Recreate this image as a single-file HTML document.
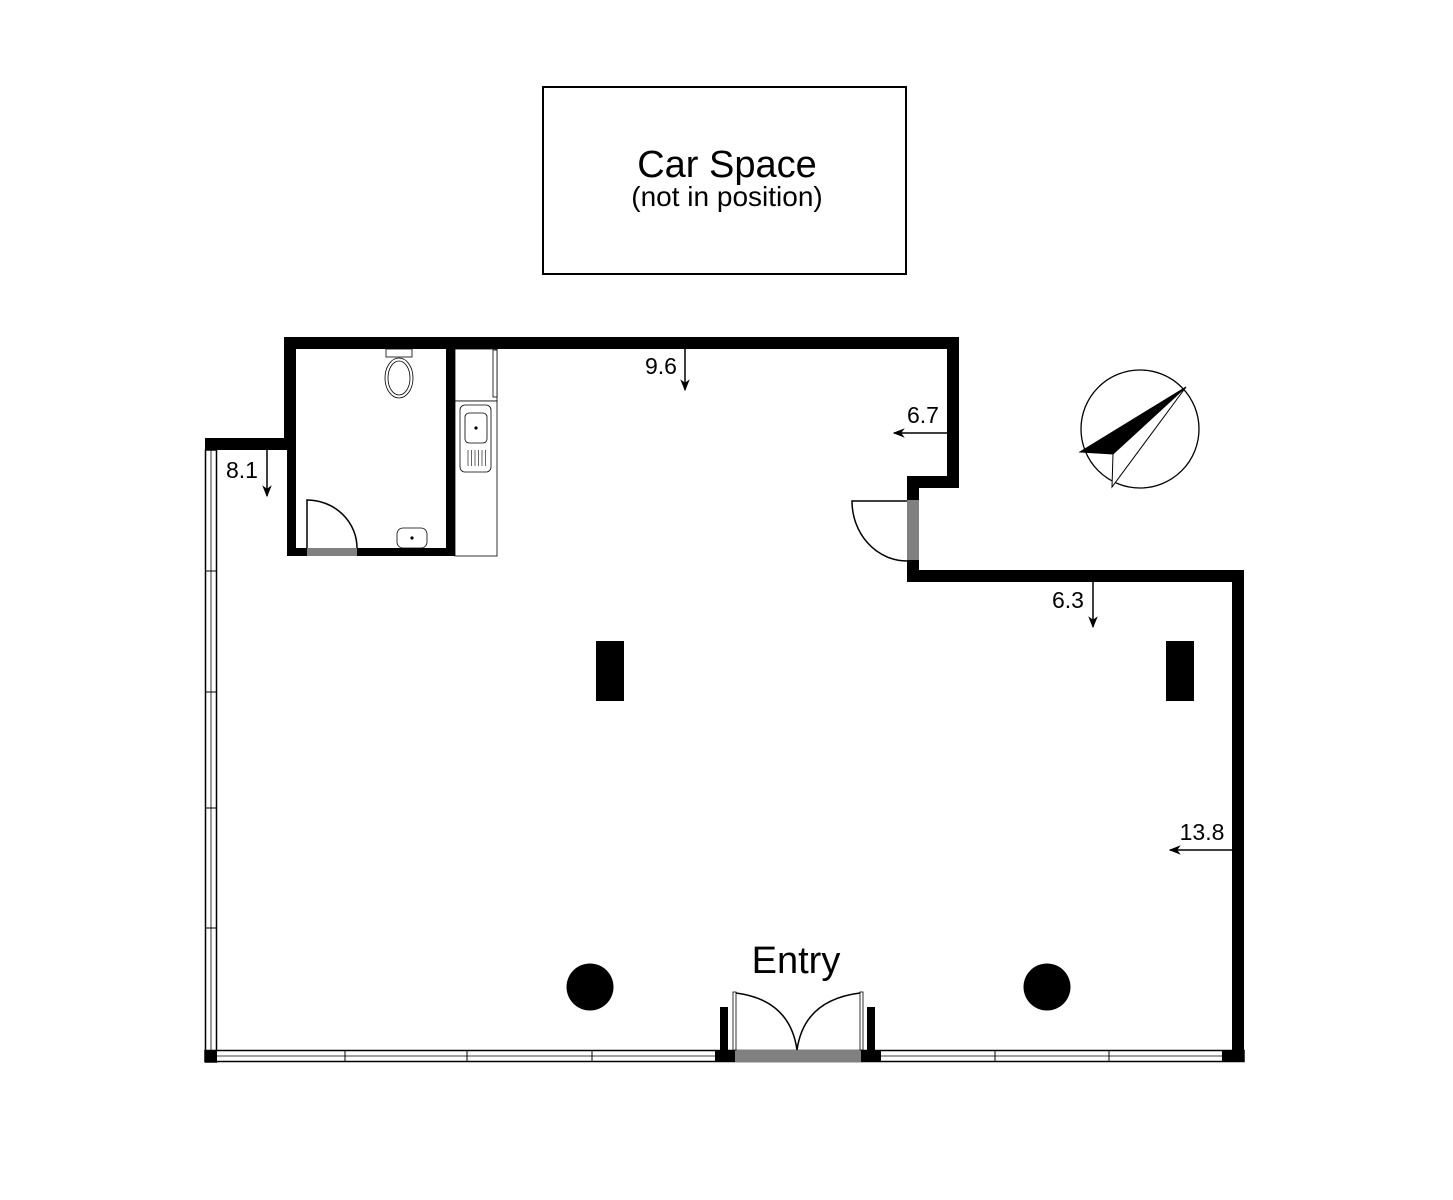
<!DOCTYPE html>
<html><head><meta charset="utf-8"><style>
html,body{margin:0;padding:0;background:#fff;}
svg{display:block;}
text{font-family:"Liberation Sans",sans-serif;fill:#000;}
</style></head><body>
<svg width="1453" height="1200" viewBox="0 0 1453 1200" xmlns="http://www.w3.org/2000/svg">
<defs><marker id="ah" viewBox="0 0 10 10" refX="9" refY="5" markerWidth="8" markerHeight="8" orient="auto"><path d="M0,1 L10,5 L0,9 L3,5z" fill="#000"/></marker></defs>
<rect x="543" y="87" width="363" height="187" fill="none" stroke="#000" stroke-width="2"/>
<text x="727" y="177" font-size="38" text-anchor="middle">Car Space</text>
<text x="727" y="206" font-size="28" text-anchor="middle">(not in position)</text>

<rect x="205.5" y="450" width="11" height="612" fill="#fff" stroke="#000" stroke-width="1.5"/>
<line x1="211" y1="450" x2="211" y2="1050" stroke="#000" stroke-width="0.8"/>
<g stroke="#000" stroke-width="1"><line x1="205" y1="571" x2="217" y2="571"/><line x1="205" y1="692" x2="217" y2="692"/><line x1="205" y1="808" x2="217" y2="808"/><line x1="205" y1="928" x2="217" y2="928"/></g>
<rect x="205" y="1050.5" width="1039" height="11" fill="#fff" stroke="#000" stroke-width="1.5"/>
<line x1="217" y1="1056" x2="1232" y2="1056" stroke="#000" stroke-width="0.8"/>
<g stroke="#000" stroke-width="1"><line x1="345" y1="1050" x2="345" y2="1062"/><line x1="467" y1="1050" x2="467" y2="1062"/><line x1="592" y1="1050" x2="592" y2="1062"/><line x1="995" y1="1050" x2="995" y2="1062"/><line x1="1109" y1="1050" x2="1109" y2="1062"/></g>

<g fill="#000">
<rect x="205" y="438" width="91" height="12"/>
<rect x="284" y="337" width="12" height="113"/>
<rect x="284" y="337" width="675" height="12"/>
<rect x="947" y="337" width="12" height="151"/>
<rect x="907" y="476" width="52" height="12"/>
<rect x="907" y="476" width="12" height="24"/>
<rect x="907" y="560" width="12" height="22"/>
<rect x="907" y="570" width="337" height="12"/>
<rect x="1232" y="570" width="12" height="492"/>
<rect x="287" y="349" width="9" height="207"/>
<rect x="287" y="548" width="168" height="8"/>
<rect x="446" y="349" width="9" height="207"/>
<rect x="205" y="1050" width="12" height="12"/>
<rect x="1222" y="1050" width="22" height="12"/>
<rect x="715" y="1050" width="20" height="12"/>
<rect x="861" y="1050" width="20" height="12"/>
<rect x="720" y="1007" width="8" height="43"/>
<rect x="867" y="1007" width="8" height="43"/>
<rect x="596" y="641" width="28" height="60"/>
<rect x="1166" y="641" width="28" height="60"/>
<circle cx="590" cy="987" r="23.5"/>
<circle cx="1047" cy="987" r="23.5"/>
</g>
<rect x="307" y="548" width="50" height="8" fill="#808080"/>
<rect x="907" y="500" width="12" height="60" fill="#808080"/>
<rect x="735" y="1050" width="126" height="12" fill="#808080"/>

<g fill="none" stroke="#000" stroke-width="1.5">
<path d="M307,548 L307,500 A50,48 0 0 1 357,548"/>
<path d="M907,501 L852,501 A55,60 0 0 0 907,561"/>
<path d="M736,993 Q790,1000 797,1050"/>
<path d="M860,993 Q804,1000 797,1050"/>
</g>
<g fill="#fff" stroke="#000" stroke-width="0.8">
<rect x="733" y="992" width="3" height="58"/>
<rect x="860" y="992" width="3" height="58"/>
</g>

<g fill="#fff" stroke="#000" stroke-width="0.8">
<rect x="386" y="349" width="26" height="8"/>
<ellipse cx="399" cy="378" rx="14" ry="20"/>
<ellipse cx="399" cy="378" rx="11" ry="17"/>
<rect x="397" y="528" width="30" height="20" rx="6"/>
</g>
<circle cx="412" cy="538" r="1.6" fill="#000"/>

<g fill="#fff" stroke="#000" stroke-width="0.8">
<rect x="455" y="349" width="42" height="52"/>
<rect x="493" y="350" width="4" height="47"/>
<rect x="455" y="401" width="42" height="155"/>
<rect x="460" y="405" width="31" height="67" rx="5"/>
<rect x="465" y="413" width="22" height="30" rx="4"/>
</g>
<circle cx="476" cy="428" r="1.6" fill="#000"/>
<g stroke="#000" stroke-width="0.6"><line x1="468" y1="450" x2="468" y2="466"/><line x1="471.5" y1="450" x2="471.5" y2="466"/><line x1="475" y1="450" x2="475" y2="466"/><line x1="478.5" y1="450" x2="478.5" y2="466"/><line x1="482" y1="450" x2="482" y2="466"/><line x1="485.5" y1="450" x2="485.5" y2="466"/></g>

<g stroke="#000" stroke-width="1.5">
<line x1="685" y1="349" x2="685" y2="390" marker-end="url(#ah)"/>
<line x1="947" y1="433" x2="894" y2="433" marker-end="url(#ah)"/>
<line x1="267" y1="450" x2="267" y2="496" marker-end="url(#ah)"/>
<line x1="1093" y1="582" x2="1093" y2="627" marker-end="url(#ah)"/>
<line x1="1232" y1="850" x2="1170" y2="850" marker-end="url(#ah)"/>
</g>
<text x="661" y="374" font-size="23" text-anchor="middle">9.6</text>
<text x="923" y="423" font-size="23" text-anchor="middle">6.7</text>
<text x="242" y="478" font-size="23" text-anchor="middle">8.1</text>
<text x="1068" y="608" font-size="23" text-anchor="middle">6.3</text>
<text x="1202" y="840" font-size="23" text-anchor="middle">13.8</text>
<text x="796" y="973" font-size="38" text-anchor="middle">Entry</text>

<circle cx="1140" cy="429" r="59" fill="none" stroke="#000" stroke-width="1.3"/>
<polygon points="1186,387 1080,452 1113,454" fill="#000" stroke="#000" stroke-width="1"/>
<polygon points="1186,387 1113,454 1112,487" fill="#fff" stroke="#000" stroke-width="1"/>
</svg>
</body></html>
